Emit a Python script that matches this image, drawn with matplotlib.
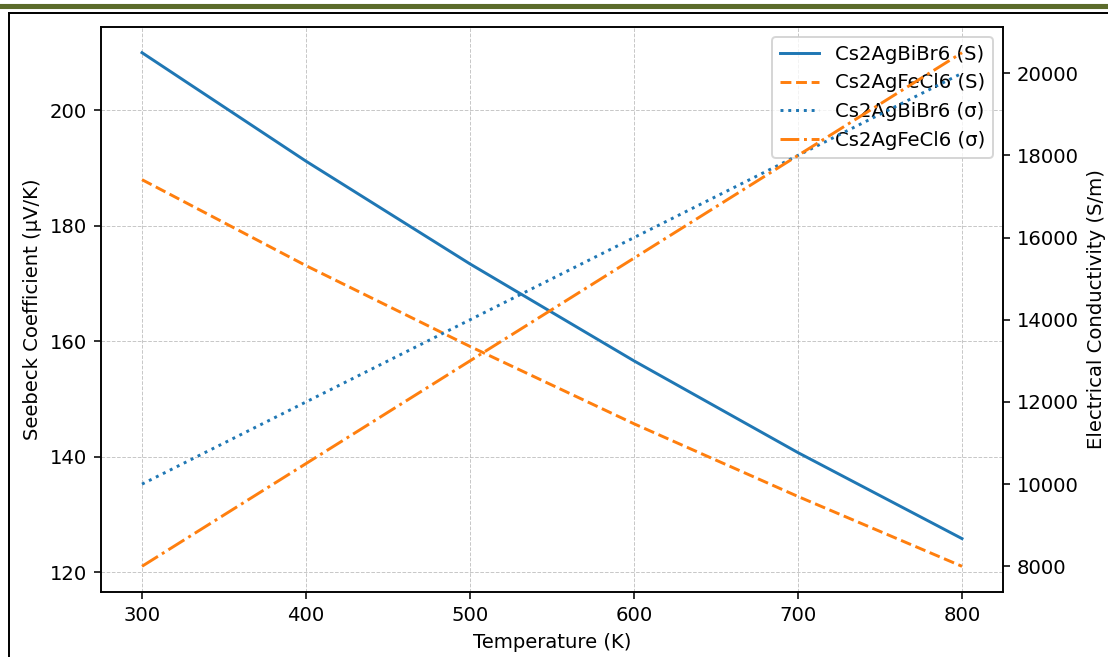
import matplotlib
matplotlib.use("Agg")
import matplotlib.pyplot as plt
from matplotlib.lines import Line2D

# Temperature grid (K)
temperature = [300, 400, 500, 600, 700, 800]

# Seebeck coefficient (uV/K)
seebeck_bibr = [210.0, 191.2, 173.4, 156.6, 140.7, 125.8]
seebeck_fecl = [188.0, 173.1, 159.1, 145.7, 133.1, 121.0]

# Electrical conductivity (S/m)
sigma_bibr = [10000, 12000, 14000, 16000, 18000, 20000]
sigma_fecl = [8000, 10500, 13000, 15500, 18000, 20500]

x_ticks = [300, 400, 500, 600, 700, 800]
s_ticks = [120, 140, 160, 180, 200]
sigma_ticks = [8000, 10000, 12000, 14000, 16000, 18000, 20000]

DPI = 141
fig = plt.figure(figsize=(1108 / DPI, 657 / DPI), dpi=DPI)

# page decoration: header rule and figure frame
fig.add_artist(Line2D([0, 1], [1 - 5.5 / 657, 1 - 5.5 / 657], color="#5b6b2b",
                      linewidth=2.6, transform=fig.transFigure))
fig.add_artist(Line2D([9 / 1108, 1], [1 - 13.3 / 657, 1 - 13.3 / 657], color="black",
                      linewidth=1.0, transform=fig.transFigure))
fig.add_artist(Line2D([9 / 1108, 9 / 1108], [0, 1 - 13.3 / 657], color="black",
                      linewidth=1.0, transform=fig.transFigure))

ax1 = fig.add_axes([101 / 1108, 1 - 592 / 657, (1003 - 101) / 1108, (592 - 27) / 657])
ax2 = ax1.twinx()

c_blue = "#1f77b4"
c_orange = "#ff7f0e"

l1, = ax1.plot(temperature, seebeck_bibr, color=c_blue, linestyle="-", label="Cs2AgBiBr6 (S)")
l2, = ax1.plot(temperature, seebeck_fecl, color=c_orange, linestyle="--", label="Cs2AgFeCl6 (S)")
l3, = ax2.plot(temperature, sigma_bibr, color=c_blue, linestyle=":", label="Cs2AgBiBr6 (σ)")
l4, = ax2.plot(temperature, sigma_fecl, color=c_orange, linestyle="-.", label="Cs2AgFeCl6 (σ)")

ax1.set_xticks(x_ticks)
ax1.set_yticks(s_ticks)
ax2.set_yticks(sigma_ticks)

ax1.set_xlabel("Temperature (K)")
ax1.set_ylabel("Seebeck Coefficient (μV/K)")
ax2.set_ylabel("Electrical Conductivity (S/m)")

ax1.grid(True, linestyle="--", linewidth=0.5, alpha=0.7)

ax1.legend(handles=[l1, l2, l3, l4], loc="upper right")

fig.savefig("out.png", dpi=DPI)
